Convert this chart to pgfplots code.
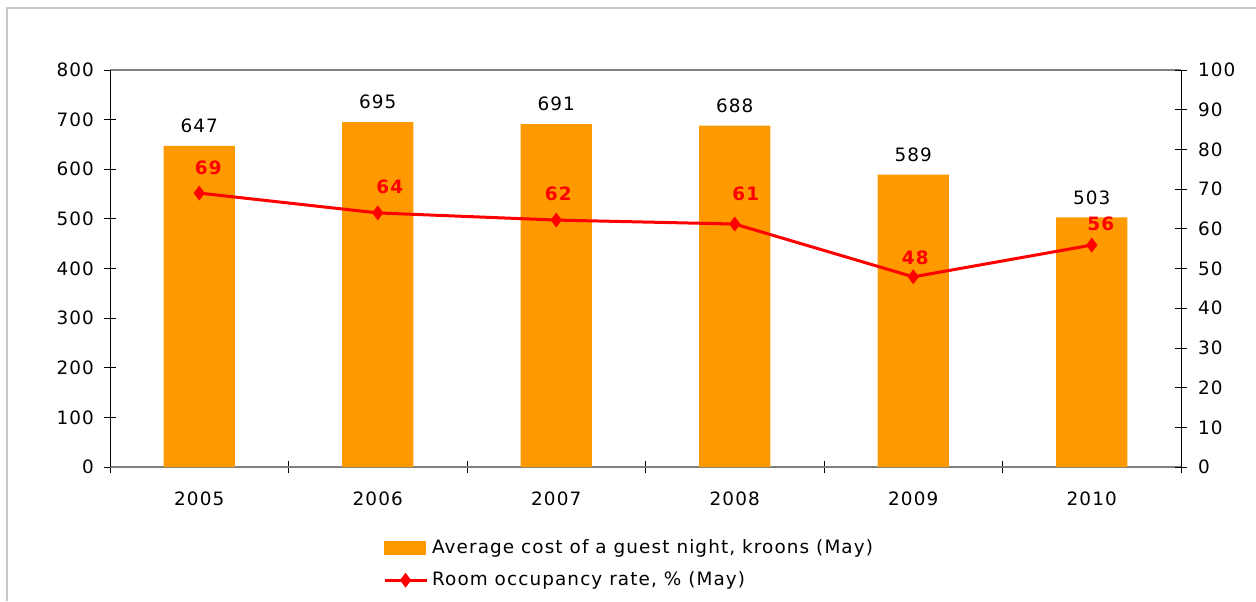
\documentclass[border=0pt]{standalone}
\usepackage{fontspec}
\setmainfont{DejaVu Sans}[LetterSpace=6]
\usepackage{pgfplots}
\usepackage{pgfplotstable}
\pgfplotsset{compat=1.18}
\definecolor{barorange}{HTML}{FF9900}
\definecolor{framegray}{HTML}{C8C8C8}
\definecolor{axisgray}{HTML}{808080}

% average cost of a guest night, kroons (May)
\pgfplotstableread{
x cost
0 647
1 695
2 691
3 688
4 589
5 503
}\costdata

% room occupancy rate, % (May); dx dy = label offsets in pt
\pgfplotstableread{
x rate dx dy
0 69.0 4.5 12.5
1 64.0 6.0 13.0
2 62.2 1.0 13.0
3 61.2 5.5 15.0
4 47.9 1.0 9.5
5 55.9 4.5 10.5
}\ratedata

\pgfkeys{/pgf/number format/assume math mode=true}
\pgfplotsset{
  linelegend/.style={legend image code/.code={%
    \draw[mark repeat=2, mark phase=2, ##1] plot coordinates {(0pt,0pt) (10.5pt,0pt) (21pt,0pt)};}},
  barlegend/.style={legend image code/.code={%
    \fill[barorange] (0pt,-3.25pt) rectangle (20.5pt,3.25pt);}},
  common/.style={
    at={(55pt,67pt)}, anchor=south west,
    scale only axis, width=535.5pt, height=198.5pt,
    xmin=-0.5, xmax=5.5,
    ytick align=center, major tick length=6pt,
    tick style={black, thin},
  },
}

\begin{document}
\begin{tikzpicture}[font=\fontsize{9.2}{11}\selectfont]
\path[use as bounding box] (0,0) rectangle (628pt,300.5pt);
\draw[framegray, line width=1pt] (3.5pt,0) -- (3.5pt,296.5pt) -- (628pt,296.5pt);

\begin{axis}[
    common,
    ymin=0, ymax=800, ytick distance=100,
    ytick pos=left,
    separate axis lines,
    x axis line style={axisgray, thick},
    y axis line style={black, thin},
    xtick={-0.5,0.5,...,5.5}, xticklabels={},
    xtick pos=bottom, xtick align=outside,
    x tick style={yshift=3pt},
    extra x ticks={0,1,2,3,4,5},
    extra x tick labels={2005,2006,2007,2008,2009,2010},
    extra x tick style={major tick length=0pt, xticklabel style={yshift=-9pt}},
    yticklabel style={xshift=-1.5pt},
    ybar, bar width=0.4,
    nodes near coords,
    nodes near coords align={anchor=center},
    every node near coord/.append style={black, yshift=10pt},
]
\addplot[fill=barorange, draw=none] table[x=x, y=cost] {\costdata};
\end{axis}

\begin{axis}[
    common,
    ymin=0, ymax=100, ytick distance=10,
    axis y line*=right, axis x line=none,
    y axis line style={black, thin, -},
    yticklabel style={xshift=2pt},
    legend style={draw=none, fill=none, at={(0.249,-0.162)}, anchor=north west,
      cells={anchor=west}, row sep=3.5pt, font=\fontsize{9.2}{11}\selectfont},
]
\addlegendimage{barlegend}
\addlegendentry{Average cost of a guest night, kroons (May)}
\addplot[red, line width=1.5pt, mark=diamond*, mark size=2.5pt, linelegend,
    nodes near coords={\pgfmathprintnumber[fixed, precision=0]{\pgfplotspointmeta}},
    nodes near coords align={anchor=center},
    visualization depends on={\thisrow{dx} \as \dx},
    visualization depends on={\thisrow{dy} \as \dy},
    every node near coord/.append style={red, font=\fontsize{9.2}{11}\selectfont\bfseries, xshift=\dx pt, yshift=\dy pt},
  ] table[x=x, y=rate] {\ratedata};
\addlegendentry{Room occupancy rate, \% (May)}
\end{axis}
\end{tikzpicture}
\end{document}
